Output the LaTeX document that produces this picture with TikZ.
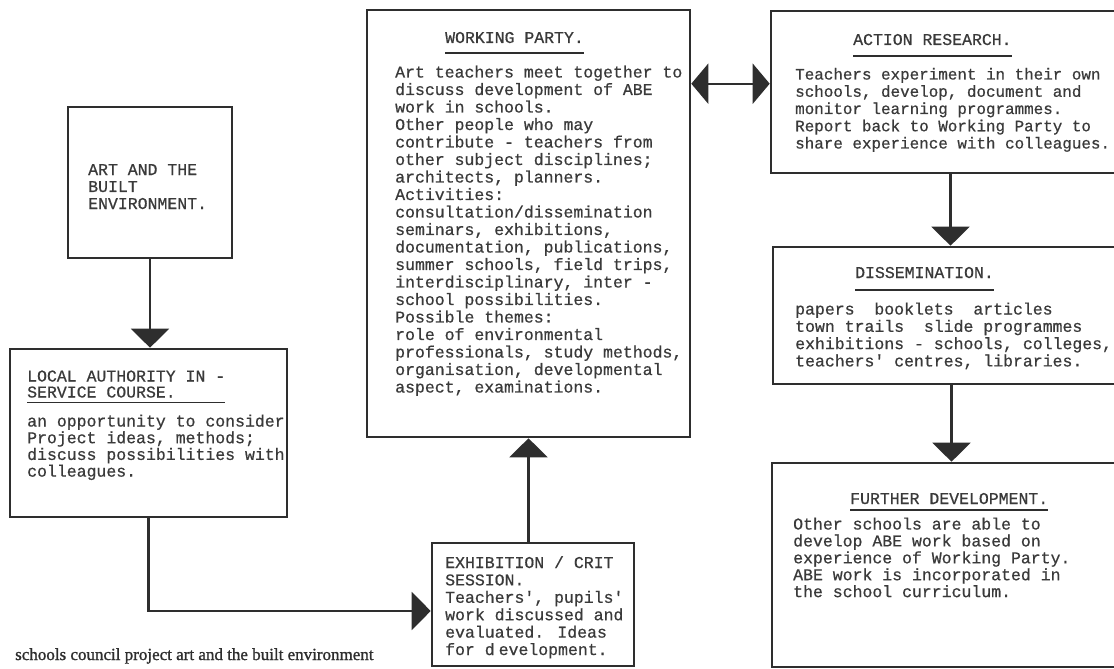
\documentclass[tikz,border=0pt]{standalone}
\usepackage{fontspec}
\setmainfont{Liberation Serif}
\newfontfamily\typew[FakeBold=0.6]{Liberation Mono}
\newfontfamily\capfont[FakeBold=1.2]{Liberation Serif}
\usetikzlibrary{arrows.meta,calc}

\definecolor{ink}{HTML}{2E2E2E}
\definecolor{typeink}{HTML}{3A3A3A}

% a block of typed lines; the baseline of the block is that of its first line
\newcommand\tblock[2][17.3pt]{\vtop{\baselineskip=#1\relax\lineskiplimit=-100pt\halign{##\hfil\cr#2\crcr}}}

\tikzset{
  box/.style={rectangle, draw=ink, line width=2.6pt, fill=white, inner sep=0pt},
  tx/.style={anchor=base west, inner sep=0pt, text=typeink,
             font=\typew\fontsize{16.5}{17.3}\selectfont},
  uline/.style={draw=ink, line width=1.6pt},
  conn/.style={draw=ink, line width=2.2pt},
  arr/.style={-{Triangle[width=38pt,length=19pt,fill=ink]}},
  darr/.style={{Triangle[width=40pt,length=17pt,fill=ink]}-{Triangle[width=40pt,length=17pt,fill=ink]}},
}

\begin{document}
\begin{tikzpicture}[x=1pt,y=-1pt]
\useasboundingbox (0,0) rectangle (1114,669);
\clip (0,0) rectangle (1114,669);
\fill[white] (0,0) rectangle (1114,669);

% boxes
\node[box, minimum width=164pt, minimum height=151pt] (art)  at (150,182.5) {};
\node[box, minimum width=277pt, minimum height=168pt] (la)   at (148.5,433) {};
\node[box, minimum width=323pt, minimum height=427pt] (wp)   at (528.5,223.5) {};
\node[box, minimum width=202pt, minimum height=123pt] (ex)   at (533,604.5) {};
\node[box, minimum width=359pt, minimum height=162pt] (ar)   at (950.5,92) {};
\node[box, minimum width=357pt, minimum height=137pt] (diss) at (951.5,315.5) {};
\node[box, minimum width=358pt, minimum height=204pt] (fd)   at (951,565) {};

% connectors
\draw[conn, arr] (art.south) -- (art.south |- la.north);
\draw[conn, arr] (la.south) |- ([yshift=-6.5pt]ex.west);
\draw[conn, arr] (wp.south |- ex.north) -- (wp.south);
\draw[conn, darr] ($(wp.north east)+(0,75)$) -- ($(ar.north west)+(0,74)$);
\draw[conn, arr] (ar.south) -- (ar.south |- diss.north);
\draw[conn, arr] (diss.south) -- (diss.south |- fd.north);

% art and the built environment
\node[tx] (artt) at (88,175) {\tblock[17pt]{ART AND THE\cr BUILT\cr ENVIRONMENT.}};

% local authority in-service course
\node[tx] (lah) at (27,381.5) {\tblock[16pt]{LOCAL AUTHORITY IN -\cr SERVICE COURSE.}};
\draw[uline] ($(lah.base west)+(0,21)$) -- ($(lah.base east)+(0,21)$);
\node[tx] (lab) at (27,426.5) {\tblock[16.7pt]{an opportunity to consider\cr
Project ideas, methods;\cr discuss possibilities with\cr colleagues.}};

% working party
\node[tx] (wph) at (445,43) {WORKING PARTY.};
\draw[uline] ($(wph.base west)+(0,10)$) -- ($(wph.base east)+(0,10)$);
\node[tx] (wpb) at (395,77.5) {\tblock[17.5pt]{Art teachers meet together to\cr
discuss development of ABE\cr
work in schools.\cr
Other people who may\cr
contribute - teachers from\cr
other subject disciplines;\cr
architects, planners.\cr
Activities:\cr
consultation/dissemination\cr
seminars, exhibitions,\cr
documentation, publications,\cr
summer schools, field trips,\cr
interdisciplinary, inter -\cr
school possibilities.\cr
Possible themes:\cr
role of environmental\cr
professionals, study methods,\cr
organisation, developmental\cr
aspect, examinations.}};

% exhibition / crit session
\node[tx] (ext) at (445,568) {\tblock[17.4pt]{EXHIBITION / CRIT\cr
SESSION.\cr
Teachers', pupils'\cr
work discussed and\cr
evaluated. Ideas\cr
for d\kern4pt evelopment.}};

% action research
\node[tx] (arh) at (853,45) {ACTION RESEARCH.};
\draw[uline] ($(arh.base west)+(0,11)$) -- ($(arh.base east)+(0,11)$);
\node[tx, font=\typew\fontsize{15.9}{17.3}\selectfont] (arb) at (795,79.5) {\tblock[17.25pt]{Teachers experiment in their own\cr
schools, develop, document and\cr
monitor learning programmes.\cr
Report back to Working Party to\cr
share experience with colleagues.}};

% dissemination
\node[tx] (dih) at (855,278) {DISSEMINATION.};
\draw[uline] ($(dih.base west)+(0,12)$) -- ($(dih.base east)+(0,12)$);
\node[tx] (dib) at (795,314.5) {\tblock[17.3pt]{papers\ \ booklets\ \ articles\cr
town trails\ \ slide programmes\cr
exhibitions - schools, colleges,\cr
teachers' centres, libraries.}};

% further development
\node[tx] (fdh) at (850,504) {FURTHER DEVELOPMENT.};
\draw[uline] ($(fdh.base west)+(0,6)$) -- ($(fdh.base east)+(0,6)$);
\node[tx] (fdb) at (793,529.5) {\tblock[16.9pt]{Other schools are able to\cr
develop ABE work based on\cr
experience of Working Party.\cr
ABE work is incorporated in\cr
the school curriculum.}};

% caption
\node[anchor=base west, inner sep=0pt, text=ink, font=\capfont\fontsize{17}{20}\selectfont]
  (cap) at (15,660) {schools council project art and the built environment};
\end{tikzpicture}
\end{document}
